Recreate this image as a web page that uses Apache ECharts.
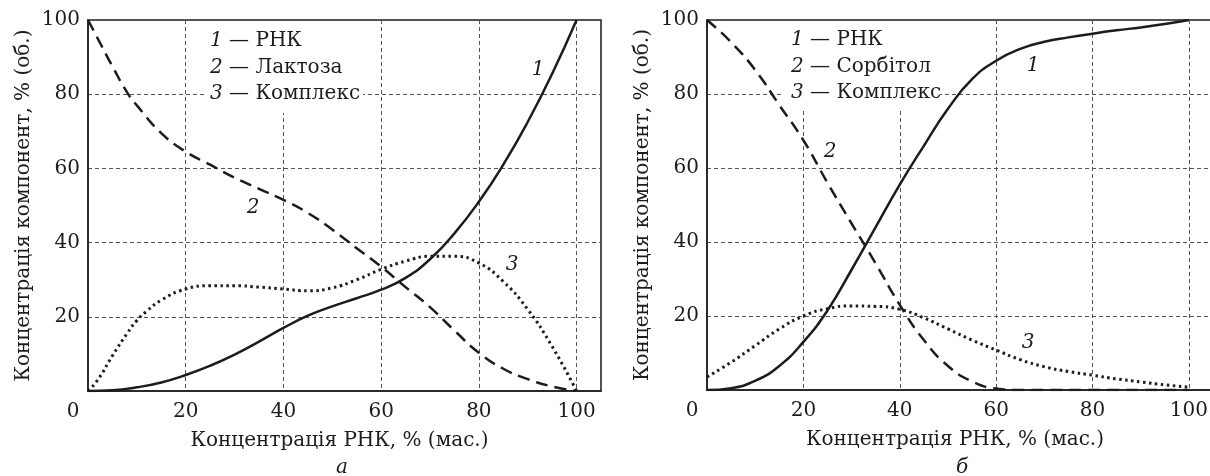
<!DOCTYPE html>
<html>
<head>
<meta charset="utf-8">
<script src="https://cdn.jsdelivr.net/npm/echarts@6/dist/echarts.min.js"></script>
<style>
html,body{margin:0;padding:0;background:#fff;}
#c{width:1210px;height:476px;}
</style>
</head>
<body>
<div id="c"></div>
<script>
// ---- data: panel a (Лактоза) ----
const xA1 = [0,5,10,15,20,25,30,35,40,45,50,55,60,65,70,75,80,85,90,95,100];
const a1  = [0,0.2,1,2.3,4.3,6.8,9.8,13.3,17,20.3,22.8,25,27.3,30.5,35.5,42.5,51,61,72.5,85.5,100];
const xA2 = [0,2,5,8,10,15,20,25,30,35,40,45,50,55,60,65,70,75,80,85,90,95,100];
const a2  = [100,95,87.5,80.5,77,69.5,64.5,61,57.5,54.5,51.5,48,43.5,38.5,33.5,28,22.6,16.3,10.3,6,3.2,1.2,0];
const xA3 = [0,2,5,8,10,12,15,20,25,30,35,40,45,50,55,60,65,70,75,80,85,90,95,100];
const a3  = [0,3,9.5,15.5,19,21.5,24.5,27.5,28.4,28.4,28,27.5,27,27.8,30,32.8,35,36.3,36.3,34.5,29.5,22,12,0];
// ---- data: panel б (Сорбітол) ----
const xB1 = [0,5,10,15,20,25,30,35,40,45,50,55,60,65,70,75,80,85,90,95,100];
const b1  = [0,0.5,2.5,6.5,13,21.5,32.5,44,55.5,66,76,84,89,92.2,94.1,95.3,96.3,97.2,98,98.9,100];
const xB2 = [0,5,10,15,20,25,30,35,40,45,50,55,60,65,70,80,90,100];
const b2  = [100,94,86.5,77,67.5,56,45,34.2,23,13.5,6.5,2.3,0.4,0,0,0,0,0];
const xB3 = [0,5,10,15,20,25,30,35,40,45,50,55,60,65,70,75,80,85,90,95,100];
const b3  = [3.5,7.5,12,16.5,20,22,22.7,22.6,21.8,19.5,16.5,13.5,10.8,8.2,6.3,5,4,3,2.2,1.4,0.8];
// ---- tick labels / texts ----
const xTicks = [0,20,40,60,80,100];
const yTicks = [20,40,60,80,100];
const yTitle = 'Концентрація компонент, % (об.)';
const xTitle = 'Концентрація РНК, % (мас.)';
const legendA = ['РНК','Лактоза','Комплекс'];
const legendB = ['РНК','Сорбітол','Комплекс'];

const FONT = 'DejaVu Serif';
const INK = '#1c1c1c';
const pairs = (xs, ys) => xs.map((x,i)=>[x, ys[i]]);

const chart = echarts.init(document.getElementById('c'), null, {renderer:'canvas'});

function xAxisCfg(gi){
  return {
    type:'value', gridIndex:gi, min:0, max:105, interval:20,
    axisLine:{show:true, onZero:false, lineStyle:{color:INK, width:1.5}},
    axisTick:{show:false},
    splitLine:{show:true, showMinLine:false, showMaxLine:false, lineStyle:{color:'#555', width:1, type:[4,3]}},
    axisLabel:{
      margin:11, color:INK, fontFamily:FONT, fontSize:20,
      formatter:function(v){ if(v===0) return '{z|0}'; if(v>100) return ''; return String(v); },
      rich:{z:{padding:[0,30,0,0], fontFamily:FONT, fontSize:20, color:INK}}
    },
    name:xTitle, nameLocation:'middle', nameGap:40,
    nameTextStyle:{fontFamily:FONT, fontSize:20, color:INK, padding:[0,10,0,0]}
  };
}
function yAxisCfg(gi){
  return {
    type:'value', gridIndex:gi, min:0, max:100, interval:20,
    axisLine:{show:true, onZero:false, lineStyle:{color:INK, width:1.5}},
    axisTick:{show:false},
    splitLine:{show:true, showMinLine:false, showMaxLine:false, lineStyle:{color:'#555', width:1, type:[4,3]}},
    axisLabel:{
      margin:8, color:INK, fontFamily:FONT, fontSize:20,
      formatter:function(v){ return v===0 ? '' : String(v); }
    },
    name:yTitle, nameLocation:'middle', nameGap:54,
    nameTextStyle:{fontFamily:FONT, fontSize:20, color:INK}
  };
}
function solid(){ return {color:INK, width:2.5, type:'solid'}; }
function dashed(){ return {color:INK, width:2.5, type:[12,7]}; }
function dotted(){ return {color:INK, width:3, type:[2.5,3.5]}; }
function ser(gi, xs, ys, ls){
  return {type:'line', xAxisIndex:gi, yAxisIndex:gi, data:pairs(xs,ys), showSymbol:false,
          smooth:0.5, lineStyle:ls, z:5, silent:true, animation:false};
}
function legendTexts(items, x, y0, dy){
  return items.map((t,i)=>({
    type:'text', left:x, top:y0 + i*dy, z:10,
    style:{text:'{n|'+(i+1)+'} — '+t, fill:INK, font:'20px "'+FONT+'"',
      rich:{n:{fontStyle:'italic', fontFamily:FONT, fontSize:20, fill:INK}}}
  }));
}
function numLabel(t, x, y){
  return {type:'text', x:x, y:y, z:10,
    style:{text:t, fill:INK, font:'italic 20px "'+FONT+'"', align:'center', verticalAlign:'middle'}};
}

chart.setOption({
  animation:false,
  backgroundColor:'#fff',
  grid:[
    {left:88, top:20, width:513, height:371, show:true, borderColor:INK, borderWidth:1.5, backgroundColor:'transparent', outerBoundsMode:'none', containLabel:false},
    {left:707, top:20, width:506, height:370, show:true, borderColor:INK, borderWidth:1.5, backgroundColor:'transparent', outerBoundsMode:'none', containLabel:false}
  ],
  xAxis:[xAxisCfg(0), xAxisCfg(1)],
  yAxis:[yAxisCfg(0), yAxisCfg(1)],
  series:[
    ser(0, xA1, a1, solid()), ser(0, xA2, a2, dashed()), ser(0, xA3, a3, dotted()),
    ser(1, xB1, b1, solid()), ser(1, xB2, b2, dashed()), ser(1, xB3, b3, dotted())
  ],
  graphic:[
    {type:'rect', shape:{x:205, y:21, width:158, height:92}, style:{fill:'#fff'}, z:1},
    {type:'rect', shape:{x:782, y:21, width:158, height:87}, style:{fill:'#fff'}, z:1}
  ].concat(
    legendTexts(legendA, 210, 31, 26.5),
    legendTexts(legendB, 791, 30, 26.5),
    [numLabel('1', 538, 70), numLabel('2', 253, 208), numLabel('3', 512, 265),
     numLabel('1', 1033, 66), numLabel('2', 830, 152), numLabel('3', 1028, 343),
     numLabel('а', 342, 468), numLabel('б', 962, 468)]
  )
});
</script>
</body>
</html>
